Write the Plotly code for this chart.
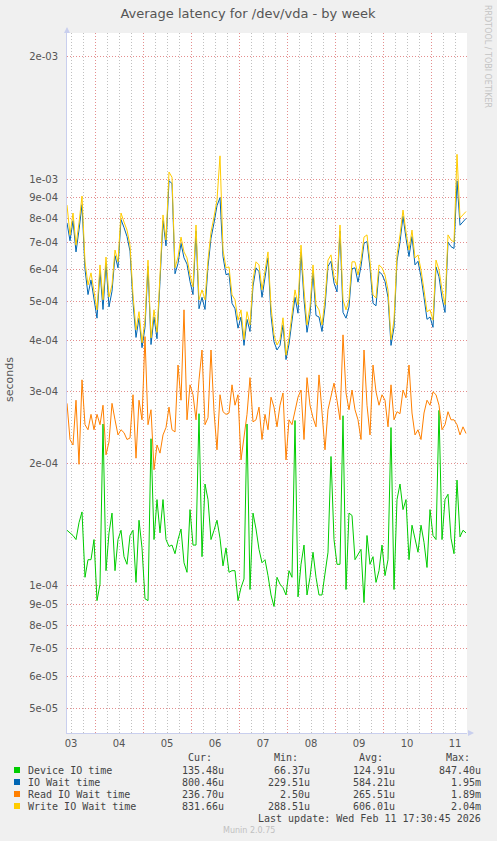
import numpy as np
import pandas as pd
import plotly.graph_objects as go

# ---------------- data (values in microseconds, one sample every 90 min) ----------------
START = "2026-02-03 10:00"
END = "2026-02-11 18:00"

device_io_us = [
    137, 135, 133, 130, 143, 152, 105, 116, 116, 130,
    92, 101, 250, 109, 135, 151, 109, 130, 137, 118,
    113, 133, 137, 102, 145, 124, 93, 92, 230, 130,
    163, 135, 163, 130, 125, 126, 120, 130, 138, 114,
    108, 154, 126, 126, 265, 118, 178, 163, 130, 137,
    145, 131, 112, 124, 108, 109, 109, 92, 99, 104,
    250, 98, 151, 138, 123, 114, 116, 106, 95, 89,
    105, 101, 99, 95, 109, 105, 255, 94, 113, 126,
    95, 105, 121, 105, 95, 95, 109, 121, 208, 130,
    113, 113, 262, 98, 151, 149, 116, 120, 123, 91,
    133, 113, 118, 102, 109, 126, 106, 116, 245, 98,
    163, 178, 154, 163, 116, 141, 130, 121, 141, 128,
    111, 154, 133, 130, 270, 130, 163, 168, 131, 120,
    182, 132, 137, 135,
]

io_wait_us = [
    780, 705, 790, 662, 750, 865, 600, 520, 565, 505,
    455, 595, 478, 620, 485, 530, 648, 605, 795, 760,
    722, 665, 498, 408, 455, 385, 432, 610, 392, 458,
    405, 560, 790, 685, 990, 975, 585, 620, 695, 640,
    618, 560, 520, 745, 480, 512, 478, 610, 715, 780,
    860, 900, 645, 582, 585, 495, 480, 430, 458, 390,
    452, 422, 545, 605, 592, 512, 575, 640, 462, 398,
    380, 390, 438, 360, 393, 446, 512, 468, 660, 505,
    420, 465, 590, 462, 458, 422, 485, 610, 628, 555,
    528, 745, 470, 455, 485, 602, 605, 558, 610, 695,
    702, 605, 495, 488, 592, 583, 560, 512, 390, 432,
    628, 700, 810, 715, 645, 722, 615, 628, 575, 512,
    452, 458, 432, 608, 575, 510, 470, 700, 682, 675,
    990, 770, 785, 800,
]

read_wait_us = [
    281, 229, 222, 286, 199, 321, 249, 242, 264, 242,
    264, 249, 278, 210, 226, 281, 256, 235, 242, 238,
    229, 231, 295, 206, 286, 256, 410, 249, 271, 193,
    222, 212, 235, 245, 275, 242, 239, 349, 286, 477,
    256, 312, 295, 256, 321, 380, 249, 259, 380, 268,
    216, 295, 268, 264, 266, 312, 278, 295, 204, 229,
    264, 325, 253, 256, 275, 229, 264, 242, 291, 275,
    246, 278, 298, 204, 256, 249, 271, 291, 303, 229,
    325, 278, 259, 246, 330, 271, 216, 271, 290, 315,
    286, 256, 414, 298, 271, 303, 271, 256, 229, 380,
    278, 235, 349, 300, 278, 295, 286, 246, 312, 256,
    268, 265, 303, 290, 349, 266, 235, 242, 229, 266,
    286, 278, 300, 295, 278, 242, 249, 268, 256, 256,
    249, 235, 246, 237,
]

write_wait_us = [
    863, 729, 825, 688, 780, 908, 626, 549, 588, 534,
    477, 615, 505, 643, 513, 549, 669, 626, 825, 784,
    749, 688, 519, 426, 472, 396, 450, 632, 407, 477,
    420, 581, 816, 708, 1040, 1010, 605, 643, 720, 662,
    640, 581, 543, 771, 505, 534, 505, 632, 741, 807,
    888, 1140, 669, 605, 608, 519, 505, 450, 477, 403,
    472, 438, 565, 626, 615, 534, 598, 662, 485, 414,
    391, 403, 456, 369, 407, 464, 534, 491, 688, 534,
    438, 485, 615, 491, 477, 438, 505, 632, 651, 575,
    549, 771, 505, 477, 505, 626, 626, 581, 632, 720,
    729, 626, 519, 510, 615, 605, 581, 534, 403, 450,
    651, 729, 839, 741, 669, 749, 640, 651, 598, 534,
    472, 477, 450, 632, 598, 534, 491, 729, 708, 700,
    1150, 802, 816, 832,
]

series_names = ["Device IO time", "IO Wait time", "Read IO Wait time", "Write IO Wait time"]
series_colors = ["#00CC00", "#0066B3", "#FF8000", "#FFCC00"]
series_values = [device_io_us, io_wait_us, read_wait_us, write_wait_us]

cur_vals = ["135.48u", "800.46u", "236.70u", "831.66u"]
min_vals = ["66.37u", "229.51u", "2.50u", "288.51u"]
avg_vals = ["124.91u", "584.21u", "265.51u", "606.01u"]
max_vals = ["847.40u", "1.95m", "1.89m", "2.04m"]

day_dates = ["2026-02-03", "2026-02-04", "2026-02-05", "2026-02-06", "2026-02-07",
             "2026-02-08", "2026-02-09", "2026-02-10", "2026-02-11"]
day_labels = ["03", "04", "05", "06", "07", "08", "09", "10", "11"]

y_tick_vals = [5e-5, 6e-5, 7e-5, 8e-5, 9e-5, 1e-4, 2e-4, 3e-4, 4e-4, 5e-4,
               6e-4, 7e-4, 8e-4, 9e-4, 1e-3, 2e-3]
y_tick_text = ["5e-05", "6e-05", "7e-05", "8e-05", "9e-05", "1e-04", "2e-04", "3e-04",
               "4e-04", "5e-04", "6e-04", "7e-04", "8e-04", "9e-04", "1e-03", "2e-03"]
Y_MIN, Y_MAX = 4.35e-5, 2.285e-3

# ---------------- figure ----------------
W, H = 497, 841
L, R, T, B = 67, 30, 33, 108
PW, PH = W - L - R, H - T - B


def px(xp):
    return (xp - L) / PW


def py(yp):
    return (H - B - yp) / PH


times = pd.date_range(START, periods=len(write_wait_us), freq="90min")

fig = go.Figure()
for name, vals, color in zip(series_names, series_values, series_colors):
    fig.add_trace(go.Scatter(
        x=times, y=np.array(vals, dtype=float) * 1e-6, mode="lines", name=name,
        line=dict(color=color, width=1), showlegend=False, hoverinfo="skip"))

# helper trace so the label axis is drawn
fig.add_trace(go.Scatter(x=[START, END], y=[None, None], xaxis="x2", yaxis="y",
                         mode="lines", showlegend=False, hoverinfo="skip"))

AXIS_COL = "#C9CFEE"
GRID_MAJOR = "rgba(225,130,130,0.9)"
GRID_MINOR = "rgba(185,185,185,0.9)"
DOTS = "1px,2px"
FONT = "DejaVu Sans"
MONO = "DejaVu Sans Mono"
TXT = "#555555"

noon_ticks = [pd.Timestamp(d) + pd.Timedelta(hours=12) for d in day_dates]

fig.update_layout(
    width=W, height=H,
    margin=dict(l=L, r=R, t=T, b=B, pad=0),
    paper_bgcolor="#F0F0F0", plot_bgcolor="#FFFFFF",
    font=dict(family=FONT, size=10, color=TXT),
    hovermode=False,
    title=dict(text="Average latency for /dev/vda - by week", x=248 / W, xref="container",
               y=1 - 13 / H, yref="container", xanchor="center", yanchor="middle",
               font=dict(family=FONT, size=13, color="#555555")),
    xaxis=dict(type="date", range=[START, END], tickmode="linear",
               tick0="2026-02-04 00:00", dtick=86400000, showticklabels=False,
               showgrid=True, gridcolor=GRID_MAJOR, griddash=DOTS, gridwidth=1,
               minor=dict(tick0="2026-02-03 00:00", dtick=6 * 3600000, showgrid=True,
                          gridcolor=GRID_MINOR, griddash=DOTS, gridwidth=1),
               showline=True, linecolor=AXIS_COL, linewidth=1, zeroline=False, ticks=""),
    xaxis2=dict(type="date", range=[START, END], overlaying="x", side="bottom", anchor="y",
                tickmode="array", tickvals=noon_ticks, ticktext=day_labels,
                showgrid=False, showline=False, zeroline=False, ticks="",
                ticklabelstandoff=3,
                tickfont=dict(family=FONT, size=10, color=TXT)),
    yaxis=dict(type="log", range=[np.log10(Y_MIN), np.log10(Y_MAX)],
               tickmode="array", tickvals=y_tick_vals, ticktext=y_tick_text,
               showgrid=True, gridcolor=GRID_MAJOR, griddash=DOTS, gridwidth=1,
               showline=True, linecolor=AXIS_COL, linewidth=1, zeroline=False, ticks="",
               ticklabelstandoff=6,
               tickfont=dict(family=FONT, size=10, color=TXT)),
)

ann = []
# y axis title
ann.append(dict(text="seconds", xref="paper", yref="paper", x=px(10), y=py(380),
                textangle=-90, showarrow=False, xanchor="center", yanchor="middle",
                font=dict(family=FONT, size=11, color=TXT)))
# watermark
ann.append(dict(text="RRDTOOL / TOBI OETIKER", xref="paper", yref="paper", x=px(487), y=py(56),
                textangle=90, showarrow=False, xanchor="center", yanchor="middle",
                font=dict(family=FONT, size=8, color="#C4C4C4")))
# axis arrows
ann.append(dict(text="", xref="paper", yref="paper", x=0, y=py(27), ax=0, ay=6,
                showarrow=True, arrowhead=2, arrowsize=1, arrowwidth=1.2, arrowcolor=AXIS_COL))
ann.append(dict(text="", xref="paper", yref="paper", x=px(474), y=0, ax=-6, ay=0,
                showarrow=True, arrowhead=2, arrowsize=1, arrowwidth=1.2, arrowcolor=AXIS_COL))

# legend header
for hdr, xr in zip(["Cur:", "Min:", "Avg:", "Max:"], [213.5, 299.5, 384.5, 471.5]):
    ann.append(dict(text=hdr, xref="paper", yref="paper", x=px(xr), y=py(757.5),
                    xanchor="right", yanchor="middle", showarrow=False,
                    font=dict(family=MONO, size=10, color="#444444")))

row_y = [770, 782, 794, 806]
shapes = []
for i, (name, color) in enumerate(zip(series_names, series_colors)):
    yy = row_y[i]
    shapes.append(dict(type="rect", xref="paper", yref="paper",
                       x0=px(14), x1=px(20), y0=py(yy + 3), y1=py(yy - 3),
                       fillcolor=color, line=dict(width=0)))
    ann.append(dict(text=name, xref="paper", yref="paper", x=px(25.5), y=py(yy),
                    xanchor="left", yanchor="middle", showarrow=False,
                    font=dict(family=MONO, size=10, color="#444444")))
    for vals, xr in zip([cur_vals, min_vals, avg_vals, max_vals], [226, 312, 397, 483]):
        ann.append(dict(text=vals[i], xref="paper", yref="paper", x=px(xr), y=py(yy),
                        xanchor="right", yanchor="middle", showarrow=False,
                        font=dict(family=MONO, size=10, color="#444444")))

ann.append(dict(text="Last update: Wed Feb 11 17:30:45 2026", xref="paper", yref="paper",
                x=px(483), y=py(818), xanchor="right", yanchor="middle", showarrow=False,
                font=dict(family=MONO, size=10, color="#444444")))
ann.append(dict(text="Munin 2.0.75", xref="paper", yref="paper", x=px(249), y=py(830),
                xanchor="center", yanchor="middle", showarrow=False,
                font=dict(family=FONT, size=8, color="#C0C0C0")))

fig.update_layout(annotations=ann, shapes=shapes)

fig.write_html("out.html",
               config={"displayModeBar": False, "staticPlot": True},
               post_script="document.body.style.margin='0';"
                           "document.body.style.background='#F0F0F0';")
